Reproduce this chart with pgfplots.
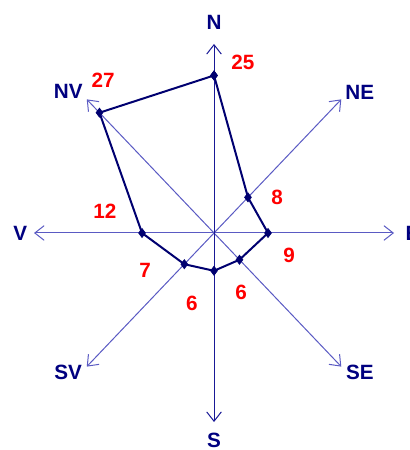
\documentclass[border=0pt]{standalone}
\usepackage{fontspec}
\setmainfont{Liberation Sans}
\usepackage{pgfplots}
\pgfplotsset{compat=1.18}
\usepgfplotslibrary{polar}
\usetikzlibrary{arrows.meta}
\definecolor{axisdark}{RGB}{25,25,150}
\definecolor{axislight}{RGB}{90,90,195}
\definecolor{rose}{RGB}{0,0,112}
\definecolor{lbl}{RGB}{0,0,128}
\definecolor{val}{RGB}{255,0,0}

\begin{document}
\begin{tikzpicture}
\begin{axis}[
  scale only axis,
  width=306.75pt, height=337.5pt,
  xmin=-35.67, xmax=32.5,
  ymin=-34.44, ymax=36.98,
  hide axis, clip=false,
]
  \coordinate (bl) at (rel axis cs:0,0);
  \coordinate (tr) at (rel axis cs:1,1);

  \tikzset{
    barb/.style={arrows={Straight Barb[length=7pt,width=11pt]-Straight Barb[length=7pt,width=11pt]}},
    dir/.style={text=lbl, font=\fontsize{15.5}{18}\selectfont\bfseries, inner sep=0pt},
    num/.style={text=val, font=\fontsize{15.5}{18}\selectfont\bfseries, inner sep=0pt},
  }

  % direction arrows, radius 30
  \draw[axislight, line width=0.75pt, barb] (axis cs:-30,0) -- (axis cs:30,0);
  \draw[axislight, line width=0.75pt, barb] (axis cs:-21.21,-21.21) -- (axis cs:21.21,21.21);
  \draw[axislight, line width=0.75pt, barb] (axis cs:-21.21,21.21) -- (axis cs:21.21,-21.21);
  \draw[axisdark, line width=0.75pt, barb] (axis cs:0,-30) -- (axis cs:0,30);

  % wind rose: angle, frequency
  \addplot[rose, line width=1.5pt, mark=diamond*, mark size=3.4pt,
           mark options={fill=rose, line width=0.5pt}, data cs=polar]
    coordinates {(90,25) (45,8) (0,9) (-45,6) (-90,6) (-135,7) (180,12) (135,27) (90,25)};

  % direction labels
  \node[dir] at (axis cs:0,33.5) {N};
  \node[dir] at (axis cs:24.3,22.3) {NE};
  \node[dir, anchor=west] at (axis cs:31.9,0) {E};
  \node[dir] at (axis cs:24.3,-22.1) {SE};
  \node[dir] at (axis cs:0,-32.9) {S};
  \node[dir] at (axis cs:-24.3,-22.1) {SV};
  \node[dir] at (axis cs:-32.3,0) {V};
  \node[dir] at (axis cs:-24.3,22.4) {NV};

  % values
  \node[num] at (axis cs:4.8,27.1) {25};
  \node[num] at (axis cs:-18.5,24.3) {27};
  \node[num] at (axis cs:10.5,5.7) {8};
  \node[num] at (axis cs:-18.2,3.5) {12};
  \node[num] at (axis cs:12.5,-3.5) {9};
  \node[num] at (axis cs:-11.5,-6.0) {7};
  \node[num] at (axis cs:-3.7,-11.1) {6};
  \node[num] at (axis cs:4.5,-9.5) {6};
\end{axis}
\pgfresetboundingbox
\useasboundingbox (bl) rectangle (tr);
\end{tikzpicture}
\end{document}
